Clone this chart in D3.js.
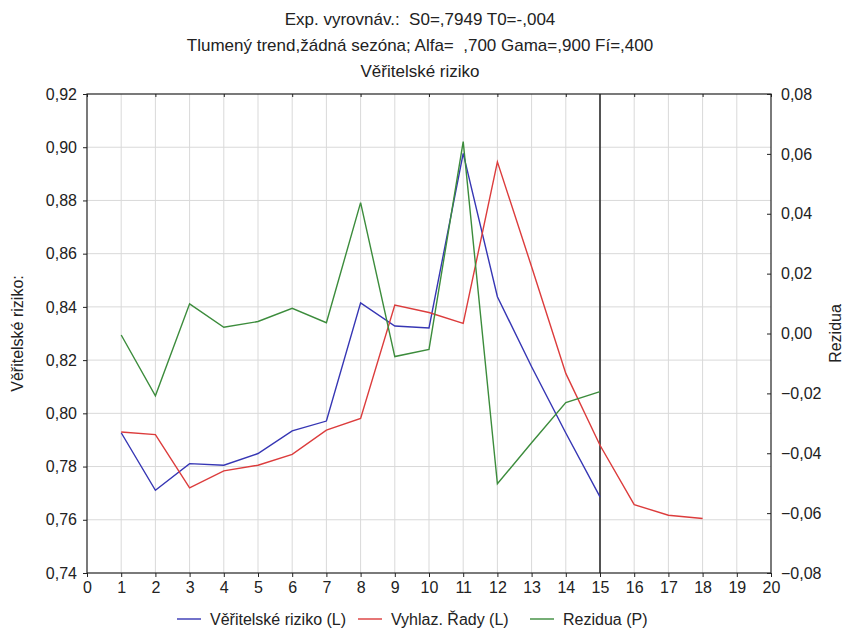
<!DOCTYPE html>
<html>
<head>
<meta charset="utf-8">
<script src="https://cdn.jsdelivr.net/npm/d3@7"></script>
<style>
  body { margin: 0; background: #fff; }
  svg { font-family: "Liberation Sans", Arial, sans-serif; }
</style>
</head>
<body>
<div id="chart"></div>
<script>
const titles = [
  "Exp. vyrovnáv.:  S0=,7949 T0=-,004",
  "Tlumený trend,žádná sezóna; Alfa=  ,700 Gama=,900 Fí=,400",
  "Věřitelské riziko"
];

const xTicks = d3.range(0, 21);
const leftTicks = [0.74, 0.76, 0.78, 0.80, 0.82, 0.84, 0.86, 0.88, 0.90, 0.92];
const rightTicks = [-0.08, -0.06, -0.04, -0.02, 0, 0.02, 0.04, 0.06, 0.08];

const rizikoX = [1, 2, 3, 4, 5, 6, 7, 8, 9, 10, 11, 12, 13, 14, 15];
const riziko = [0.7927, 0.7711, 0.7811, 0.7805, 0.7849, 0.7934, 0.7971, 0.8415,
                0.8328, 0.8321, 0.8977, 0.8438, 0.8175, 0.7926, 0.7686];

const vyhlazX = [1, 2, 3, 4, 5, 6, 7, 8, 9, 10, 11, 12, 13, 14, 15, 16, 17, 18];
const vyhlaz = [0.7930, 0.7920, 0.7720, 0.7784, 0.7805, 0.7846, 0.7937, 0.7981,
                0.8407, 0.8379, 0.8338, 0.8945, 0.8551, 0.8150, 0.7880, 0.7657,
                0.7617, 0.7605];

const rezX = [1, 2, 3, 4, 5, 6, 7, 8, 9, 10, 11, 12, 13, 14, 15];
const rezidua = [-0.0005, -0.0208, 0.0099, 0.0021, 0.0040, 0.0084, 0.0036, 0.0437,
                 -0.0077, -0.0053, 0.0641, -0.0502, -0.0365, -0.0231, -0.0194];

const forecastStart = 15;

const width = 848, height = 633;
const margin = { top: 94, right: 77, bottom: 60, left: 87 };
const innerW = width - margin.left - margin.right;
const innerH = height - margin.top - margin.bottom;

const fmt = d => d3.format(".2f")(d).replace(".", ",");

const svg = d3.select("#chart").append("svg")
  .attr("width", width)
  .attr("height", height);

const x = d3.scaleLinear().domain([0, 20]).range([margin.left, margin.left + innerW]);
const yL = d3.scaleLinear().domain([0.74, 0.92]).range([margin.top + innerH, margin.top]);
const yR = d3.scaleLinear().domain([-0.08, 0.08]).range([margin.top + innerH, margin.top]);

// titles
svg.selectAll(".title")
  .data(titles)
  .enter().append("text")
    .attr("class", "title")
    .attr("x", 420)
    .attr("y", (d, i) => 25 + i * 26)
    .attr("text-anchor", "middle")
    .style("font-size", "17px")
    .style("white-space", "pre")
    .style("fill", "#222")
    .text(d => d);

// grid
const grid = svg.append("g").attr("stroke", "#d9d9d9").attr("stroke-width", 1);
grid.selectAll(".gx")
  .data(xTicks.slice(1, -1))
  .enter().append("line")
    .attr("x1", d => x(d)).attr("x2", d => x(d))
    .attr("y1", margin.top).attr("y2", margin.top + innerH);
grid.selectAll(".gy")
  .data(leftTicks.slice(1, -1))
  .enter().append("line")
    .attr("x1", margin.left).attr("x2", margin.left + innerW)
    .attr("y1", d => yL(d)).attr("y2", d => yL(d));

// frame
svg.append("rect")
  .attr("x", margin.left).attr("y", margin.top)
  .attr("width", innerW).attr("height", innerH)
  .attr("fill", "none").attr("stroke", "#222").attr("stroke-width", 1.2);

// axes
const tickStyle = g => {
  g.select(".domain").remove();
  g.selectAll(".tick line").attr("stroke", "#222");
  g.selectAll(".tick text").style("font-size", "16px").style("fill", "#222")
    .style("font-family", "Liberation Sans, Arial, sans-serif");
};

svg.append("g")
  .attr("transform", `translate(0,${margin.top + innerH})`)
  .call(d3.axisBottom(x).tickValues(xTicks).tickFormat(d3.format("d")).tickSize(4).tickPadding(5))
  .call(tickStyle);

svg.append("g")
  .attr("transform", `translate(0,${margin.top})`)
  .call(d3.axisBottom(x).tickValues(xTicks.filter(d => d % 2 === 0)).tickFormat("").tickSize(3))
  .call(tickStyle);

svg.append("g")
  .attr("transform", `translate(${margin.left},0)`)
  .call(d3.axisLeft(yL).tickValues(leftTicks).tickFormat(fmt).tickSize(4).tickPadding(6))
  .call(tickStyle);

svg.append("g")
  .attr("transform", `translate(${margin.left + innerW},0)`)
  .call(d3.axisRight(yR).tickValues(rightTicks).tickFormat(fmt).tickSize(-4).tickPadding(10))
  .call(tickStyle);

// axis titles
svg.append("text")
  .attr("transform", `translate(23,${margin.top + innerH / 2}) rotate(-90)`)
  .attr("text-anchor", "middle")
  .style("font-size", "16px").style("fill", "#222")
  .text("Věřitelské riziko:");

svg.append("text")
  .attr("transform", `translate(841,${margin.top + innerH / 2}) rotate(-90)`)
  .attr("text-anchor", "middle")
  .style("font-size", "16px").style("fill", "#222")
  .text("Rezidua");

// forecast divider
svg.append("line")
  .attr("x1", x(forecastStart)).attr("x2", x(forecastStart))
  .attr("y1", margin.top).attr("y2", margin.top + innerH)
  .attr("stroke", "#222").attr("stroke-width", 1.5);

// series
const series = [
  { name: "Věřitelské riziko (L)", xs: rizikoX, ys: riziko, scale: yL, color: "#3636b4" },
  { name: "Vyhlaz. Řady (L)", xs: vyhlazX, ys: vyhlaz, scale: yL, color: "#dc3c3c" },
  { name: "Rezidua (P)", xs: rezX, ys: rezidua, scale: yR, color: "#3c8c3c" }
];

series.forEach(s => {
  const line = d3.line()
    .x((d, i) => x(s.xs[i]))
    .y(d => s.scale(d));
  svg.append("path")
    .datum(s.ys)
    .attr("d", line)
    .attr("fill", "none")
    .attr("stroke", s.color)
    .attr("stroke-width", 1.4);
});

// legend
const legendX = [177, 358, 530];
const legend = svg.append("g").attr("transform", "translate(0,619)");
const item = legend.selectAll(".item")
  .data(series)
  .enter().append("g")
    .attr("class", "item")
    .attr("transform", (d, i) => `translate(${legendX[i]},0)`);
item.append("line")
  .attr("x1", 0).attr("x2", 24)
  .attr("stroke", d => d.color).attr("stroke-width", 1.4);
item.append("text")
  .attr("x", 33).attr("dy", "0.35em")
  .style("font-size", "16px").style("fill", "#222")
  .text(d => d.name);
</script>
</body>
</html>
